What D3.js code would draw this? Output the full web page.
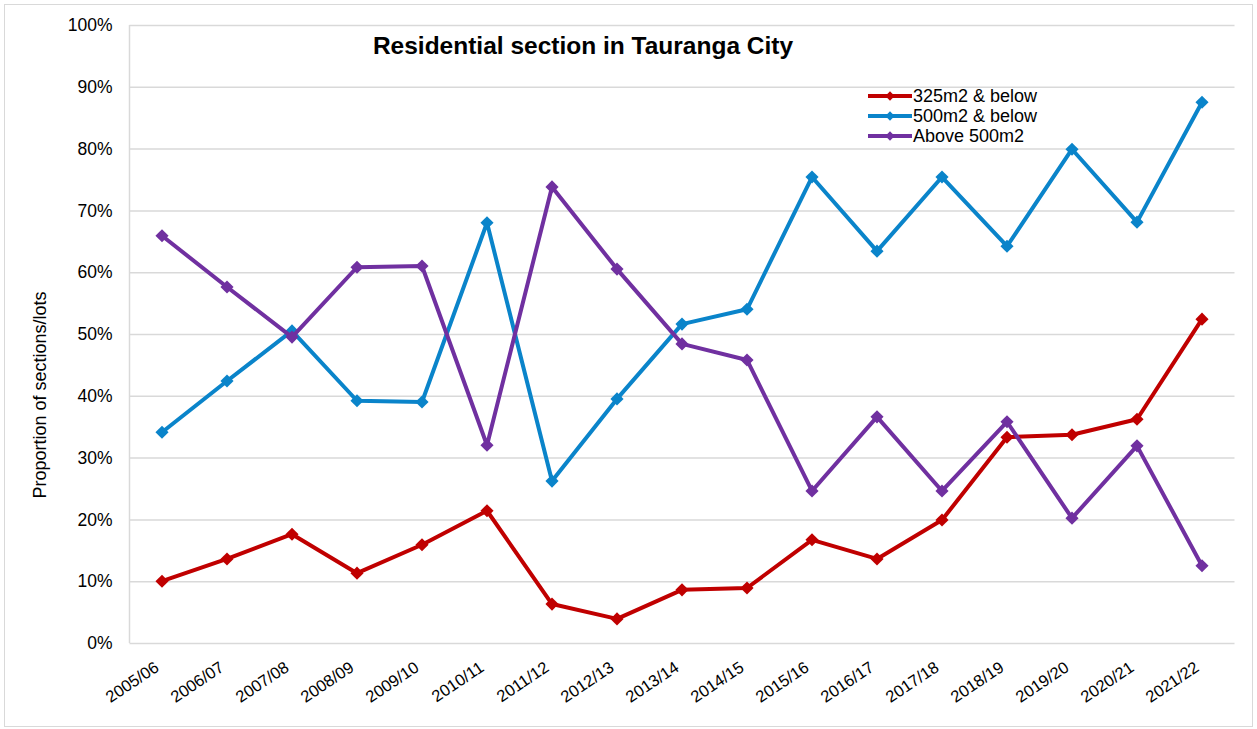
<!DOCTYPE html>
<html>
<head>
<meta charset="utf-8">
<script src="https://cdn.jsdelivr.net/npm/d3@7"></script>
<style>
  html, body { margin: 0; padding: 0; background: #fff; }
  svg { display: block; font-family: Arial, "Liberation Sans", sans-serif; }
</style>
</head>
<body>
<svg id="chart" width="1257" height="729"></svg>
<script>
// Financial years on the x axis
const years = ["2005/06","2006/07","2007/08","2008/09","2009/10","2010/11","2011/12","2012/13",
  "2013/14","2014/15","2015/16","2016/17","2017/18","2018/19","2019/20","2020/21","2021/22"];

// Share of residential sections by lot size (%)
const small325 = [10.0, 13.6, 17.6, 11.3, 15.9, 21.4, 6.3, 3.9, 8.6, 8.9, 16.7, 13.6, 19.9, 33.3, 33.7, 36.2, 52.4];
const upTo500  = [34.1, 42.4, 50.5, 39.2, 39.0, 68.0, 26.2, 39.5, 51.6, 54.0, 75.4, 63.4, 75.4, 64.2, 79.9, 68.1, 87.5];
const above500 = [65.9, 57.6, 49.5, 60.8, 61.0, 32.0, 73.8, 60.5, 48.4, 45.8, 24.6, 36.6, 24.6, 35.8, 20.2, 31.9, 12.5];

const seriesNames  = ["325m2 & below", "500m2 & below", "Above 500m2"];
const seriesColors = ["#C00000", "#0A84CA", "#7030A0"];
const yTicks = [0, 10, 20, 30, 40, 50, 60, 70, 80, 90, 100];

const series = [small325, upTo500, above500].map((vals, i) => ({
  name: seriesNames[i], color: seriesColors[i], values: vals
}));

const svg = d3.select("#chart");
const W = 1257, H = 729;
const plot = { left: 129.5, right: 1234.5, top: 25, bottom: 643 };

// Outer chart border
svg.append("rect")
  .attr("x", 4.5).attr("y", 4.5)
  .attr("width", W - 9).attr("height", H - 7)
  .attr("fill", "#fff").attr("stroke", "#d9d9d9").attr("stroke-width", 1);

const x = d3.scaleBand().domain(years).range([plot.left, plot.right]);
const y = d3.scaleLinear().domain([0, 100]).range([plot.bottom, plot.top]);
const xc = d => x(d) + x.bandwidth() / 2;

// Horizontal gridlines and y labels
const yAxis = d3.axisLeft(y)
  .tickValues(yTicks)
  .tickSize(-(plot.right - plot.left))
  .tickPadding(17)
  .tickFormat(d => d + "%");

const gy = svg.append("g")
  .attr("transform", `translate(${plot.left},0)`)
  .call(yAxis);
gy.select(".domain").remove();
gy.selectAll(".tick line").attr("stroke", "#d9d9d9").attr("stroke-width", 1.5);
gy.selectAll(".tick text")
  .attr("fill", "#000").style("font-size", "17.5px")
  .attr("font-family", "Arial, 'Liberation Sans', sans-serif");

// Left axis line
svg.append("line")
  .attr("x1", plot.left).attr("x2", plot.left)
  .attr("y1", plot.top).attr("y2", plot.bottom)
  .attr("stroke", "#d9d9d9").attr("stroke-width", 1.5);

// X axis labels (rotated)
const xAxis = d3.axisBottom(x).tickSize(0).tickPadding(0);
const gx = svg.append("g")
  .attr("transform", `translate(0,${plot.bottom})`)
  .call(xAxis);
gx.select(".domain").remove();
gx.selectAll(".tick text")
  .attr("fill", "#000").style("font-size", "16.5px")
  .attr("font-family", "Arial, 'Liberation Sans', sans-serif")
  .attr("text-anchor", "end")
  .attr("dy", null)
  .attr("y", 0)
  .attr("transform", "translate(-2,27) rotate(-34)");

// Y axis title
svg.append("text")
  .attr("transform", `translate(46,${(plot.top + plot.bottom) / 2 + 61}) rotate(-90)`)
  .attr("text-anchor", "middle")
  .style("font-size", "18px")
  .attr("fill", "#000")
  .text("Proportion of sections/lots");

// Chart title
svg.append("text")
  .attr("x", 583).attr("y", 54)
  .attr("text-anchor", "middle")
  .style("font-size", "24.5px").style("font-weight", "bold")
  .attr("fill", "#000")
  .text("Residential section in Tauranga City");

// Lines and diamond markers
const line = d3.line().x((v, i) => xc(years[i])).y(v => y(v));
const diamond = d3.symbol().type(d3.symbolDiamond2).size(110);

series.forEach(s => {
  const g = svg.append("g");
  g.append("path")
    .attr("d", line(s.values))
    .attr("fill", "none")
    .attr("stroke", s.color)
    .attr("stroke-width", 4)
    .attr("stroke-linejoin", "round");
  g.selectAll("path.m")
    .data(s.values)
    .join("path")
    .attr("class", "m")
    .attr("d", diamond)
    .attr("transform", (v, i) => `translate(${xc(years[i])},${y(v)})`)
    .attr("fill", s.color);
});

// Legend
const legend = svg.append("g").attr("transform", "translate(868,96)");
series.forEach((s, i) => {
  const row = legend.append("g").attr("transform", `translate(0,${i * 20})`);
  row.append("line")
    .attr("x1", 0).attr("x2", 44).attr("y1", 0).attr("y2", 0)
    .attr("stroke", s.color).attr("stroke-width", 4);
  row.append("path")
    .attr("d", d3.symbol().type(d3.symbolDiamond2).size(55))
    .attr("transform", "translate(22,0)")
    .attr("fill", s.color);
  row.append("text")
    .attr("x", 45).attr("y", 0).attr("dy", "0.35em")
    .style("font-size", "18px").attr("fill", "#000")
    .text(s.name);
});
</script>
</body>
</html>
